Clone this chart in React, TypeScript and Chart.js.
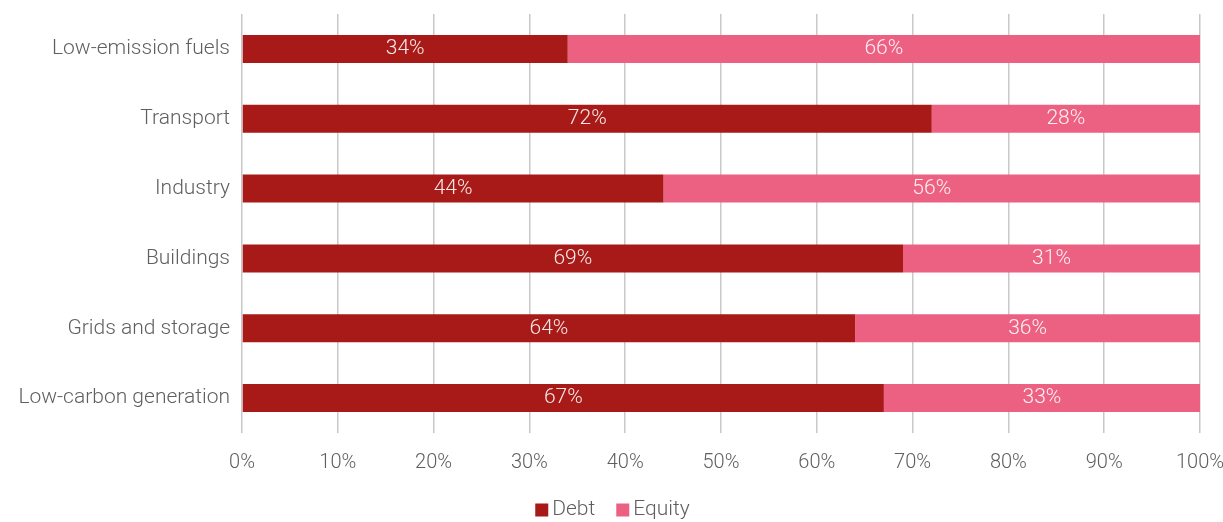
import React, { useEffect, useRef } from "react";
import { Chart, registerables } from "chart.js";

Chart.register(...registerables);

const categories = [
  "Low-emission fuels",
  "Transport",
  "Industry",
  "Buildings",
  "Grids and storage",
  "Low-carbon generation",
];
const debtValues = [34, 72, 44, 69, 64, 67];
const equityValues = [66, 28, 56, 31, 36, 33];
const xTicks = [0, 10, 20, 30, 40, 50, 60, 70, 80, 90, 100];

const FONT = "Roboto";
const TEXT = "#5f5f5f";

const labelPlugin = {
  id: "barLabels",
  afterDatasetsDraw(chart: any) {
    const ctx = chart.ctx;
    ctx.save();
    ctx.font = `300 21px ${FONT}`;
    ctx.fillStyle = "rgba(255,255,255,0.9)";
    ctx.textAlign = "center";
    ctx.textBaseline = "middle";
    chart.data.datasets.forEach((ds: any, di: number) => {
      const meta = chart.getDatasetMeta(di);
      meta.data.forEach((bar: any, i: number) => {
        const p = bar.getProps(["x", "y", "base"], true);
        const cx = (p.x + p.base) / 2;
        ctx.fillText(`${ds.data[i]}%`, cx, p.y);
      });
    });
    ctx.restore();
  },
};

const legendPlugin = {
  id: "customLegend",
  afterDraw(chart: any) {
    const ctx = chart.ctx;
    ctx.save();
    ctx.font = `300 21px ${FONT}`;
    ctx.textBaseline = "middle";
    ctx.textAlign = "left";
    const box = 13;
    const gap = 4;
    const itemGap = 21;
    const items = chart.data.datasets.map((ds: any) => ({
      label: ds.label,
      color: ds.backgroundColor,
      w: ctx.measureText(ds.label).width,
    }));
    const total =
      items.reduce((s: number, it: any) => s + box + gap + it.w, 0) +
      itemGap * (items.length - 1);
    let x = chart.width / 2 - total / 2 + 1;
    const cy = 510;
    items.forEach((it: any) => {
      ctx.fillStyle = it.color;
      ctx.fillRect(x, cy - box / 2, box, box);
      x += box + gap;
      ctx.fillStyle = TEXT;
      ctx.fillText(it.label, x, cy);
      x += it.w + itemGap;
    });
    ctx.restore();
  },
};

export default function App() {
  const ref = useRef<HTMLCanvasElement>(null);
  useEffect(() => {
    if (!ref.current) return;
    const chart = new Chart(ref.current, {
      type: "bar",
      data: {
        labels: categories,
        datasets: [
          {
            label: "Debt",
            data: debtValues,
            backgroundColor: "#A71A17",
            barPercentage: 0.4,
            categoryPercentage: 1,
          },
          {
            label: "Equity",
            data: equityValues,
            backgroundColor: "#EC6082",
            barPercentage: 0.4,
            categoryPercentage: 1,
          },
        ],
      },
      options: {
        indexAxis: "y",
        animation: false,
        responsive: false,
        maintainAspectRatio: false,
        layout: { padding: { top: 14, right: 23, left: 0, bottom: 0 } },
        scales: {
          x: {
            stacked: true,
            min: 0,
            max: 100,
            afterBuildTicks: (axis: any) => {
              axis.ticks = xTicks.map((v) => ({ value: v }));
            },
            afterFit: (axis: any) => {
              axis.height = 89;
              axis.paddingLeft = 0;
              axis.paddingRight = 0;
            },
            ticks: {
              callback: (v: any) => `${v}%`,
              color: TEXT,
              font: { family: FONT, size: 20, weight: "300" },
              padding: 18,
              maxRotation: 0,
            },
            grid: {
              color: "#c8c8c8",
              lineWidth: 1.5,
              drawTicks: false,
            },
            border: { display: false },
          },
          y: {
            stacked: true,
            afterFit: (axis: any) => {
              axis.width = 242;
              axis.paddingTop = 0;
              axis.paddingBottom = 0;
            },
            ticks: {
              color: TEXT,
              font: { family: FONT, size: 21, weight: "300" },
              padding: 12,
            },
            grid: { display: false, drawTicks: false },
            border: { display: false },
          },
        },
        plugins: {
          legend: { display: false },
          tooltip: { enabled: false },
        },
      },
      plugins: [labelPlugin, legendPlugin],
    });
    return () => chart.destroy();
  }, []);
  return (
    <div style={{ position: "fixed", left: 0, top: 0, width: 1223, height: 522, background: "#fff" }}>
      <canvas ref={ref} width={1223} height={522} style={{ width: 1223, height: 522 }} />
    </div>
  );
}
